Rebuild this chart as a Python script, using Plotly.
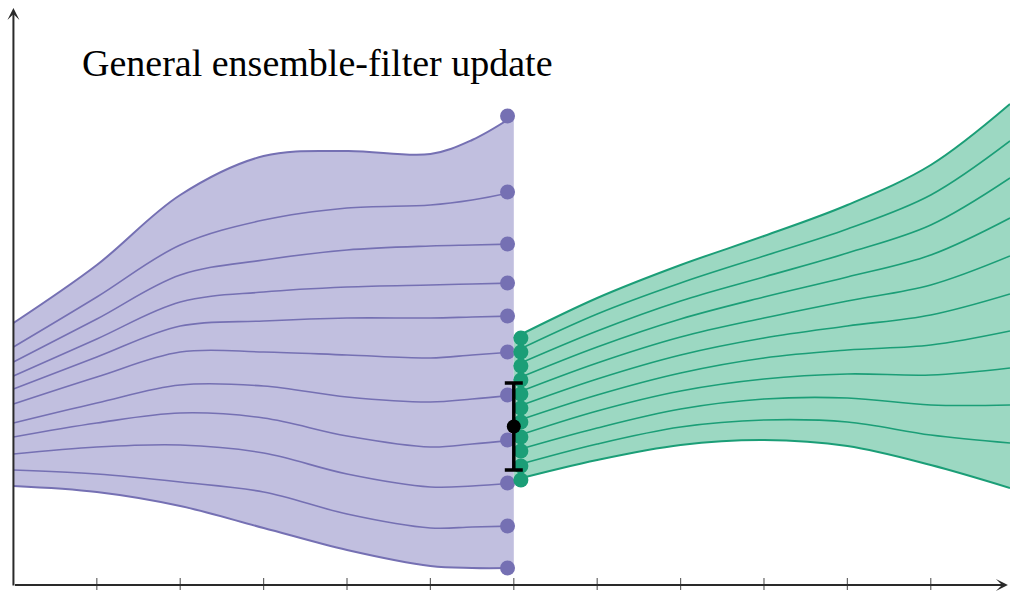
import plotly.graph_objects as go

# Time knots for the forecast (prior) ensemble and the analysis (posterior) ensemble
t_prior = [0, 1, 2, 3, 4, 5, 5.5, 6]
t_post = [6, 7, 8, 9, 10, 11, 11.95]

# Prior ensemble members, top boundary first, bottom boundary last
prior_members = [
    [26.2, 32.0, 39.0, 42.9, 43.4, 43.1, 44.5, 46.9],
    [23.8, 28.8, 34.0, 36.5, 37.7, 38.0, 38.5, 39.3],
    [22.3, 26.6, 31.0, 32.5, 33.5, 33.9, 34.0, 34.1],
    [20.9, 24.6, 28.3, 29.3, 29.8, 30.0, 30.1, 30.2],
    [19.6, 22.8, 25.9, 26.4, 26.7, 26.7, 26.8, 26.9],
    [18.1, 20.8, 23.3, 23.3, 23.0, 22.7, 23.0, 23.3],
    [16.2, 18.2, 20.0, 19.9, 18.8, 18.3, 18.6, 19.0],
    [14.8, 16.2, 17.2, 16.7, 14.9, 13.8, 14.1, 14.5],
    [13.1, 13.8, 14.0, 13.2, 11.1, 9.8, 9.9, 10.2],
    [11.5, 11.1, 10.3, 9.3, 7.1, 5.7, 5.8, 5.9],
    [9.9, 9.3, 7.9, 5.7, 3.5, 1.9, 1.7, 1.7],
]

# Posterior ensemble members, top boundary first, bottom boundary last
post_members = [
    [24.7, 28.7, 32.0, 34.9, 38.0, 42.0, 48.1],
    [23.3, 27.1, 30.2, 32.9, 35.6, 39.0, 44.4],
    [21.9, 25.4, 28.4, 30.8, 33.2, 36.0, 40.7],
    [20.5, 23.8, 26.6, 28.8, 30.8, 33.0, 36.7],
    [19.1, 22.2, 24.8, 26.7, 28.4, 30.0, 32.9],
    [17.7, 20.6, 23.0, 24.7, 25.9, 27.0, 29.1],
    [16.3, 19.0, 21.2, 22.7, 23.5, 24.0, 25.4],
    [14.8, 17.4, 19.4, 20.6, 21.1, 21.0, 21.7],
    [13.4, 15.7, 17.6, 18.6, 18.7, 18.0, 18.0],
    [11.9, 14.1, 15.8, 16.5, 16.3, 15.0, 14.2],
    [10.5, 12.5, 14.0, 14.5, 13.9, 12.0, 9.7],
]

# Observation at the update time
obs_t = [6]
obs_y = [15.85]
obs_err = [4.35]

tick_positions = [1, 2, 3, 4, 5, 6, 7, 8, 9, 10, 11]
title_text = "General ensemble-filter update"

PURPLE = "#7570b3"
PURPLE_FILL = "#c1bfdf"
GREEN = "#1b9e77"
GREEN_FILL = "#9cd8c2"
AXIS = "#2a2a2a"

fig = go.Figure()


def add_ensemble(times, members, line_color, fill_color):
    # Shaded envelope between the bottom and top members
    fig.add_trace(go.Scatter(x=times, y=members[-1], mode="lines",
                             line=dict(color=line_color, width=2, shape="spline"),
                             hoverinfo="skip", showlegend=False))
    fig.add_trace(go.Scatter(x=times, y=members[0], mode="lines",
                             line=dict(color=line_color, width=2, shape="spline"),
                             fill="tonexty", fillcolor=fill_color,
                             hoverinfo="skip", showlegend=False))
    for m in members[1:-1]:
        fig.add_trace(go.Scatter(x=times, y=m, mode="lines",
                                 line=dict(color=line_color, width=1.6, shape="spline"),
                                 hoverinfo="skip", showlegend=False))


add_ensemble(t_prior, prior_members, PURPLE, PURPLE_FILL)

# Prior ensemble states at the update time (nudged left of the update line)
fig.add_trace(go.Scatter(x=[t_prior[-1] - 0.075] * len(prior_members),
                         y=[m[-1] for m in prior_members], mode="markers",
                         marker=dict(color=PURPLE, size=15, line=dict(width=0)),
                         hoverinfo="skip", showlegend=False))

add_ensemble(t_post, post_members, GREEN, GREEN_FILL)

# Posterior ensemble states at the update time (nudged right of the update line)
fig.add_trace(go.Scatter(x=[t_post[0] + 0.085] * len(post_members),
                         y=[m[0] for m in post_members], mode="markers",
                         marker=dict(color=GREEN, size=15, line=dict(width=0)),
                         hoverinfo="skip", showlegend=False))

# Observation with its uncertainty
fig.add_trace(go.Scatter(x=obs_t, y=obs_y, mode="markers",
                         marker=dict(color="black", size=14),
                         error_y=dict(type="data", array=obs_err, visible=True,
                                      color="black", thickness=3.5, width=9),
                         hoverinfo="skip", showlegend=False))

# Tick marks across the time axis
shapes = [dict(type="line", xref="x", yref="y", x0=t, x1=t, y0=-0.5, y1=0.7,
               line=dict(color="#666", width=1.2)) for t in tick_positions]

annotations = [
    # time axis with arrow
    dict(x=11.925, y=0, ax=0, ay=0, xref="x", yref="y", axref="x", ayref="y",
         showarrow=True, arrowhead=3, arrowsize=1, arrowwidth=2,
         arrowcolor=AXIS, text="", standoff=0),
    # state axis with arrow
    dict(x=0, y=57.7, ax=0, ay=-0.2, xref="x", yref="y", axref="x", ayref="y",
         showarrow=True, arrowhead=3, arrowsize=1, arrowwidth=2,
         arrowcolor=AXIS, text="", standoff=0),
    dict(x=0.0792, y=0.893, xref="paper", yref="paper", xanchor="left",
         yanchor="middle", showarrow=False, text=title_text,
         font=dict(family="Liberation Serif", size=38, color="black")),
]

fig.update_layout(
    width=1010, height=591,
    margin=dict(l=0, r=0, t=0, b=0),
    plot_bgcolor="white", paper_bgcolor="white",
    xaxis=dict(range=[-0.161, 11.95], visible=False, fixedrange=True),
    yaxis=dict(range=[-0.6, 58.5], visible=False, fixedrange=True),
    shapes=shapes,
    annotations=annotations,
)

fig.write_html("out.html")
